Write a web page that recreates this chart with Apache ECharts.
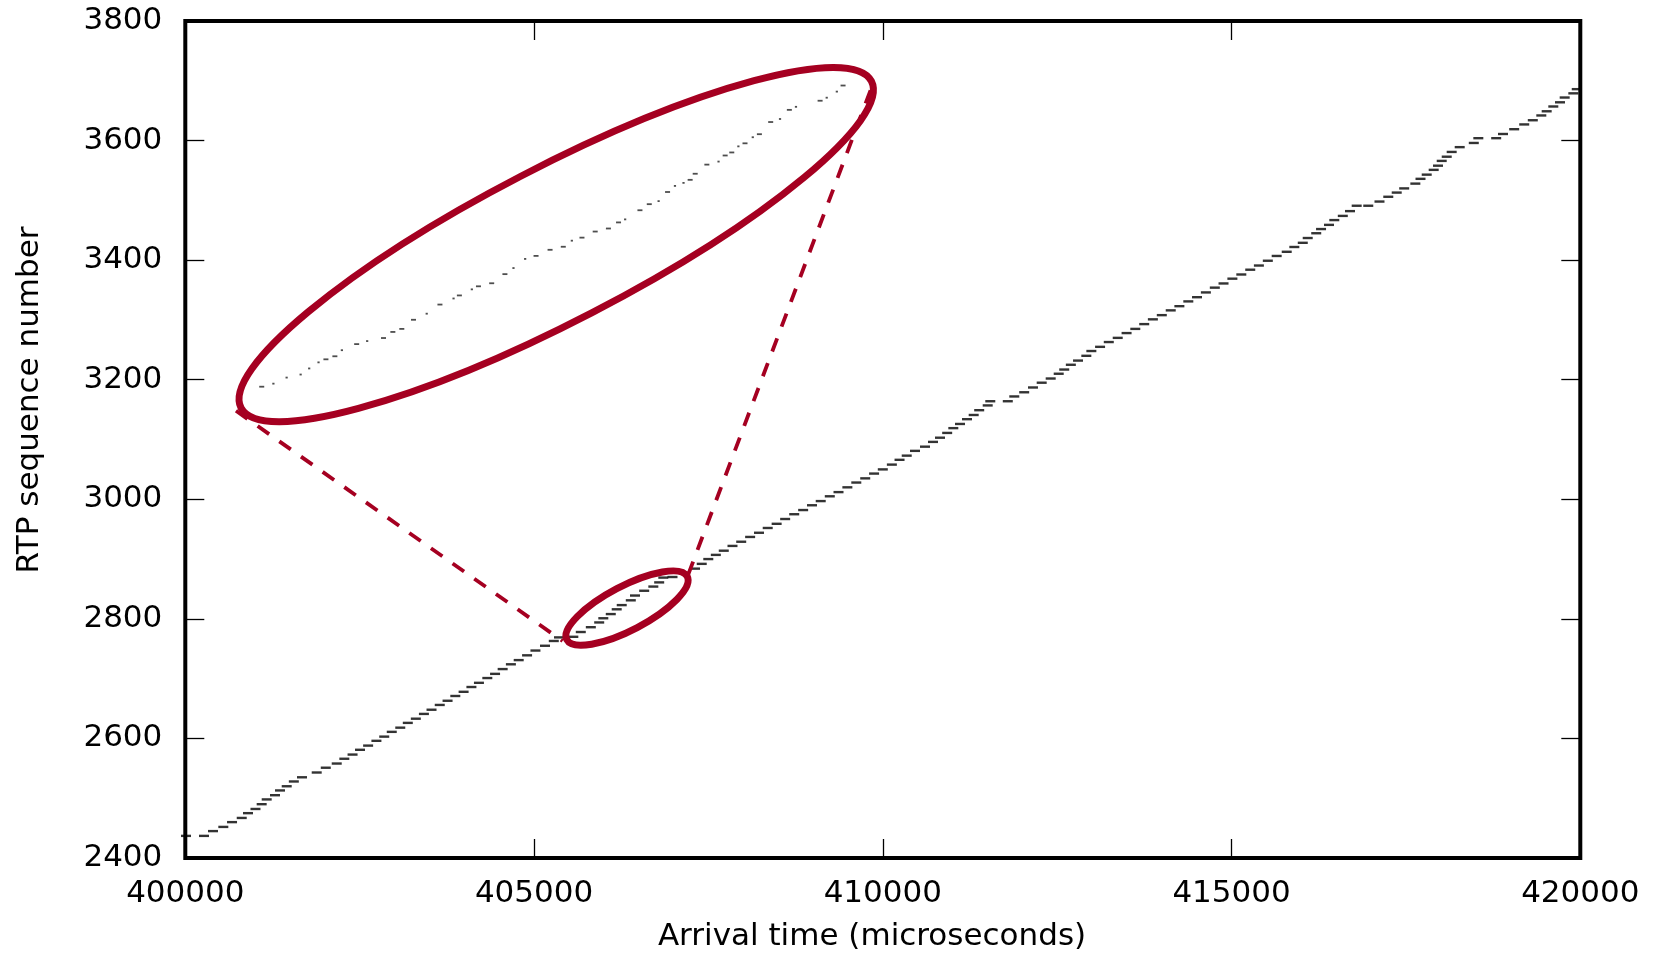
<!DOCTYPE html>
<html>
<head>
<meta charset="utf-8">
<title>RTP sequence number vs arrival time</title>
<script src="https://cdn.jsdelivr.net/npm/echarts@6/dist/echarts.min.js"></script>
<style>
  html, body { margin: 0; padding: 0; background: #fff; }
  #chart { width: 1655px; height: 954px; }
</style>
</head>
<body>
<div id="chart"></div>
<script>
// arrival time (us) and RTP sequence number of each packet burst (one dash per burst)
const burstTime = [
  400010, 400268, 400397, 400545, 400670, 400809, 400899, 401006, 401095, 401167,
  401286, 401358, 401454, 401556, 401673, 401884, 402014, 402171, 402280, 402398,
  402505, 402621, 402740, 402852, 402960, 403082, 403190, 403305, 403421, 403530,
  403648, 403760, 403871, 403990, 404102, 404210, 404330, 404441, 404550, 404668,
  404780, 404900, 405020, 405157, 405283, 405358, 405563, 405670, 405814, 405934,
  405993, 406100, 406185, 406257, 406387, 406447, 406579, 406710, 406794, 406853,
  406985, 407150, 407308, 407404, 407498, 407606, 407720, 407845, 407970, 408098,
  408225, 408350, 408478, 408600, 408730, 408858, 408985, 409110, 409240, 409365,
  409492, 409620, 409748, 409875, 410000, 410130, 410240, 410343, 410462, 410605,
  410720, 410820, 410923, 411011, 411107, 411207, 411303, 411382, 411504, 411541,
  411792, 411885, 412027, 412153, 412278, 412407, 412522, 412601, 412696, 412799,
  412918, 412990, 413115, 413240, 413368, 413495, 413620, 413748, 413872, 414000,
  414128, 414252, 414380, 414505, 414632, 414760, 414885, 415012, 415140, 415268,
  415392, 415520, 415647, 415791, 415900, 416021, 416092, 416214, 416283, 416397,
  416473, 416595, 416698, 416794, 416960, 417121, 417247, 417368, 417475, 417635,
  417709, 417798, 417898, 417960, 418013, 418085, 418156, 418271, 418473, 418538,
  418794, 418892, 419052, 419196, 419319, 419441, 419518, 419613, 419709, 419776,
  419900, 419949
];
const burstSeq = [
  2437, 2437, 2445, 2452, 2460, 2467, 2475, 2482, 2490, 2498,
  2505, 2513, 2520, 2528, 2535, 2543, 2551, 2558, 2566, 2573,
  2581, 2588, 2596, 2603, 2611, 2618, 2626, 2633, 2641, 2648,
  2656, 2663, 2671, 2678, 2686, 2693, 2701, 2708, 2716, 2724,
  2731, 2739, 2747, 2755, 2763, 2769, 2770, 2778, 2786, 2794,
  2801, 2808, 2816, 2823, 2831, 2839, 2847, 2854, 2861, 2869,
  2870, 2877, 2884, 2892, 2900, 2907, 2914, 2922, 2929, 2937,
  2944, 2952, 2959, 2967, 2975, 2982, 2990, 2997, 3005, 3012,
  3020, 3028, 3035, 3043, 3050, 3058, 3066, 3073, 3081, 3088,
  3096, 3103, 3111, 3119, 3126, 3134, 3141, 3149, 3157, 3164,
  3164, 3172, 3179, 3187, 3195, 3202, 3210, 3217, 3225, 3232,
  3240, 3248, 3255, 3263, 3270, 3278, 3285, 3293, 3301, 3308,
  3316, 3323, 3331, 3338, 3346, 3354, 3361, 3369, 3376, 3384,
  3391, 3399, 3407, 3414, 3422, 3429, 3437, 3445, 3452, 3459,
  3467, 3474, 3482, 3491, 3491, 3498, 3506, 3513, 3520, 3528,
  3536, 3543, 3551, 3558, 3566, 3573, 3581, 3589, 3596, 3604,
  3604, 3611, 3619, 3627, 3634, 3642, 3649, 3657, 3664, 3672,
  3679, 3686
];

// zoomed view: packets that arrive as close pairs (short dashes) ...
const insetPairTime = [
  405547, 405712, 405735, 405791, 405860, 405884, 405907, 405937, 406005, 406055,
  406104, 406138, 406172, 406252, 406288, 406322, 406370, 406404, 406438, 406464,
  406519, 406543, 406590, 406648, 406661, 406691, 406738, 406755, 406789, 406826,
  406855, 406903, 406982, 407041
];
const insetPairSeq = [
  2770, 2779, 2780, 2784, 2786, 2788, 2789, 2792, 2797, 2800,
  2803, 2804, 2807, 2813, 2815, 2816, 2819, 2821, 2822, 2824,
  2828, 2830, 2834, 2838, 2840, 2843, 2846, 2847, 2850, 2853,
  2857, 2861, 2864, 2869
];
// ... and single packets (dots)
const insetSingleTime = [
  405577, 405611, 405647, 405669, 405693, 405753, 405818, 405971, 406040, 406087,
  406194, 406224, 406344, 406481, 406567, 406609, 406631, 406721, 406772, 406809,
  406879, 406920, 406999, 407025
];
const insetSingleSeq = [
  2771, 2773, 2774, 2776, 2778, 2782, 2785, 2794, 2799, 2802,
  2809, 2812, 2818, 2825, 2831, 2836, 2837, 2844, 2849, 2852,
  2858, 2862, 2865, 2867
];

// annotation: ellipses and dashed callout lines, anchored in data units
const zoomEllipses = [
  { center: [405318, 3426], rx: 355, ry: 77, tilt: 27.4 },
  { center: [406333, 2818], rx: 68, ry: 22, tilt: 27.7 }
];
const calloutLines = [
  [[400727, 3148], [405409, 2763]],
  [[409824, 3684], [407207, 2873]]
];

const font = 'DejaVu Sans';
const red = '#a50021';
const zip = (a, b) => a.map((v, i) => [v, b[i]]);

const chart = echarts.init(document.getElementById('chart'));

const tick = { show: true, inside: true, length: 19, lineStyle: { color: '#000', width: 1.3 } };
const label = { color: '#000', fontFamily: font, fontSize: 31, formatter: v => String(v) };

chart.setOption({
  animation: false,
  backgroundColor: '#fff',
  grid: [
    { left: 185.3, top: 21, right: 74.7, bottom: 96, show: true, borderColor: '#000', borderWidth: 4 },
    { left: 259, top: 84, width: 586, height: 302.7, show: false }
  ],
  xAxis: [
    { type: 'value', gridIndex: 0, position: 'bottom', min: 400000, max: 420000, interval: 5000,
      axisLine: { show: false }, axisTick: tick, splitLine: { show: false },
      axisLabel: Object.assign({ margin: 20 }, label) },
    { type: 'value', gridIndex: 0, position: 'top', min: 400000, max: 420000, interval: 5000,
      axisLine: { show: false }, axisTick: tick, splitLine: { show: false }, axisLabel: { show: false } },
    { type: 'value', gridIndex: 1, min: 405540, max: 407046, show: false, splitLine: { show: false } }
  ],
  yAxis: [
    { type: 'value', gridIndex: 0, position: 'left', min: 2400, max: 3800, interval: 200,
      axisLine: { show: false }, axisTick: tick, splitLine: { show: false },
      axisLabel: Object.assign({ margin: 23 }, label) },
    { type: 'value', gridIndex: 0, position: 'right', min: 2400, max: 3800, interval: 200,
      axisLine: { show: false }, axisTick: tick, splitLine: { show: false }, axisLabel: { show: false } },
    { type: 'value', gridIndex: 1, min: 2770, max: 2869.5, show: false, splitLine: { show: false } }
  ],
  series: [
    { type: 'scatter', xAxisIndex: 0, yAxisIndex: 0, symbol: 'rect', symbolSize: [10, 2.4],
      itemStyle: { color: '#000' }, data: zip(burstTime, burstSeq), silent: true, z: 3 },
    { type: 'scatter', xAxisIndex: 2, yAxisIndex: 2, symbol: 'rect', symbolSize: [5, 1.8],
      itemStyle: { color: '#222' }, data: zip(insetPairTime, insetPairSeq), silent: true, z: 3 },
    { type: 'scatter', xAxisIndex: 2, yAxisIndex: 2, symbol: 'rect', symbolSize: [2.2, 1.8],
      itemStyle: { color: '#222' }, data: zip(insetSingleTime, insetSingleSeq), silent: true, z: 3 }
  ].concat(calloutLines.map(seg => ({
    type: 'line', xAxisIndex: 0, yAxisIndex: 0, data: seg, symbol: 'none', silent: true, z: 4,
    lineStyle: { color: red, width: 3.8, type: [14, 12.5] }
  }))),
  graphic: [
    { id: 'xname', type: 'text', x: 872, y: 937,
      style: { text: 'Arrival time (microseconds)', fontFamily: font, fontSize: 31, fill: '#000', align: 'center', verticalAlign: 'middle' } },
    { id: 'yname', type: 'text', x: 30, y: 400, rotation: Math.PI / 2,
      style: { text: 'RTP sequence number', fontFamily: font, fontSize: 31, fill: '#000', align: 'center', verticalAlign: 'middle' } }
  ]
});

// ellipses need pixel positions, so place them once the axes exist
chart.setOption({
  graphic: zoomEllipses.map((e, i) => ({
    id: 'ellipse' + i, type: 'ellipse', z: 10,
    x: chart.convertToPixel({ xAxisIndex: 0 }, e.center[0]),
    y: chart.convertToPixel({ yAxisIndex: 0 }, e.center[1]),
    rotation: e.tilt * Math.PI / 180,
    shape: { cx: 0, cy: 0, rx: e.rx, ry: e.ry },
    style: { fill: 'none', stroke: red, lineWidth: 7 }
  }))
});
</script>
</body>
</html>
